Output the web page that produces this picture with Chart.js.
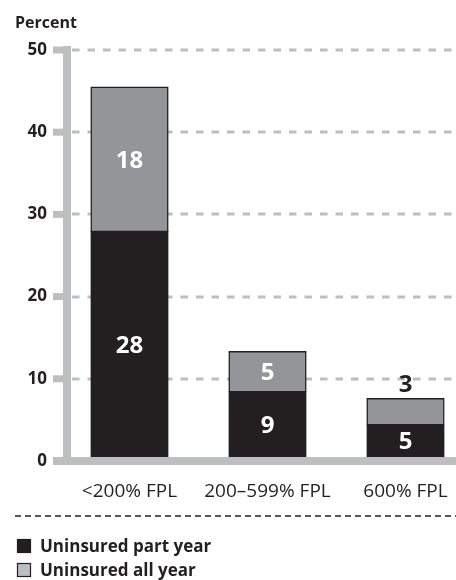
<!DOCTYPE html>
<html>
<head>
<meta charset="utf-8">
<script src="https://cdn.jsdelivr.net/npm/chart.js@4.4.1/dist/chart.umd.min.js"></script>
<style>
  html, body { margin: 0; padding: 0; background: #fff; }
  #wrap { position: relative; width: 456px; height: 580px; overflow: hidden; }
  canvas { display: block; }
</style>
</head>
<body>
<div id="wrap"><canvas id="c" width="480" height="580"></canvas></div>
<script>
// ---- data ----
const categories = ['<200% FPL', '200\u2013599% FPL', '600% FPL'];
const seriesNames = ['Uninsured part year', 'Uninsured all year'];
const partYear = [27.9, 8.4, 4.4];
const allYear = [17.6, 4.9, 3.2];
const partYearLabels = ['28', '9', '5'];
const allYearLabels = ['18', '5', '3'];
const yTicks = [0, 10, 20, 30, 40, 50];
const yTitle = 'Percent';

const DARK = '#231f20';
const GRAY = '#939598';
const LIGHT = '#bcbec0';
const FONT = '"Open Sans", "Noto Sans", sans-serif';

const decor = {
  id: 'decor',
  beforeDatasetsDraw(chart) {
    const ctx = chart.ctx;
    const ys = chart.scales.y;
    const W = chart.width;
    ctx.save();
    // dashed gridlines
    ctx.strokeStyle = LIGHT;
    ctx.lineWidth = 3;
    ctx.setLineDash([7.5, 8]);
    yTicks.forEach(v => {
      if (v === 0) return;
      const y = Math.round(ys.getPixelForValue(v));
      ctx.beginPath();
      ctx.moveTo(72, y);
      ctx.lineTo(W, y);
      ctx.stroke();
    });
    ctx.setLineDash([]);
    // y axis line
    ctx.fillStyle = LIGHT;
    const yTop = ys.getPixelForValue(yTicks[yTicks.length - 1]);
    const y0 = ys.getPixelForValue(0);
    ctx.fillRect(63, yTop - 4, 8, y0 - yTop + 8);
    // tick marks
    yTicks.forEach(v => {
      const y = ys.getPixelForValue(v);
      ctx.fillRect(53, y - 3.5, 12, 7);
    });
    ctx.restore();
  },
  afterDatasetsDraw(chart) {
    const ctx = chart.ctx;
    const ys = chart.scales.y;
    const W = chart.width;
    const y0 = ys.getPixelForValue(0);
    ctx.save();
    // x axis line
    ctx.fillStyle = LIGHT;
    ctx.fillRect(53, y0 - 4, W, 8);

    // bar value labels
    const size = 24;
    ctx.font = 'bold ' + size + 'px ' + FONT;
    ctx.textAlign = 'center';
    ctx.textBaseline = 'alphabetic';
    const lbls = [partYearLabels, allYearLabels];
    chart.data.datasets.forEach((ds, di) => {
      const meta = chart.getDatasetMeta(di);
      meta.data.forEach((el, i) => {
        const top = el.y;
        const bottom = di === 0 ? el.base - 4 : el.base;
        const h = bottom - top;
        if (h >= 30) {
          ctx.fillStyle = '#ffffff';
          ctx.fillText(lbls[di][i], el.x, (top + bottom) / 2 + size * 0.357);
        } else {
          ctx.fillStyle = DARK;
          ctx.fillText(lbls[di][i], el.x, top - 7);
        }
      });
    });

    // axis title
    ctx.fillStyle = DARK;
    ctx.textAlign = 'left';
    ctx.font = 'bold 16px ' + FONT;
    ctx.fillText(yTitle, 15, 28);

    // separator
    ctx.strokeStyle = DARK;
    ctx.lineWidth = 1.5;
    ctx.setLineDash([6, 4]);
    ctx.beginPath();
    ctx.moveTo(15, 516);
    ctx.lineTo(W, 516);
    ctx.stroke();
    ctx.setLineDash([]);

    // legend
    const legendFill = [DARK, LIGHT];
    const rowY = [546, 570];
    ctx.font = 'bold 17px ' + FONT;
    seriesNames.forEach((name, i) => {
      const cy = rowY[i];
      ctx.fillStyle = legendFill[i];
      ctx.fillRect(17, cy - 7, 14, 14);
      ctx.strokeStyle = DARK;
      ctx.lineWidth = 1.2;
      ctx.strokeRect(17.5, cy - 6.5, 13, 13);
      ctx.fillStyle = DARK;
      ctx.fillText(name, 40, cy + 6);
    });
    ctx.restore();
  }
};

new Chart(document.getElementById('c'), {
  type: 'bar',
  data: {
    labels: categories,
    datasets: [
      { label: seriesNames[0], data: partYear, backgroundColor: DARK, borderColor: DARK, borderWidth: 1.5, inflateAmount: 0.6 },
      { label: seriesNames[1], data: allYear, backgroundColor: GRAY, borderColor: DARK, borderWidth: 1.5, borderSkipped: false, inflateAmount: 0.6 }
    ]
  },
  options: {
    responsive: false,
    animation: false,
    events: [],
    layout: { padding: { top: 50, right: 5.5, left: 0, bottom: 0 } },
    datasets: { bar: { categoryPercentage: 1, barPercentage: 0.558 } },
    plugins: { legend: { display: false }, tooltip: { enabled: false }, title: { display: false } },
    scales: {
      x: {
        stacked: true,
        grid: { display: false, drawTicks: false },
        border: { display: false },
        ticks: { color: DARK, font: { family: FONT, size: 19 }, padding: 19, maxRotation: 0, autoSkip: false },
        afterFit(s) { s.height = 119; }
      },
      y: {
        stacked: true,
        min: 0,
        max: 50,
        grid: { display: false, drawTicks: false },
        border: { display: false },
        ticks: { stepSize: 10, color: DARK, font: { family: FONT, size: 17, weight: 'bold' }, padding: 13.5 },
        afterFit(s) { s.width = 60.5; }
      }
    }
  },
  plugins: [decor]
});
</script>
</body>
</html>
